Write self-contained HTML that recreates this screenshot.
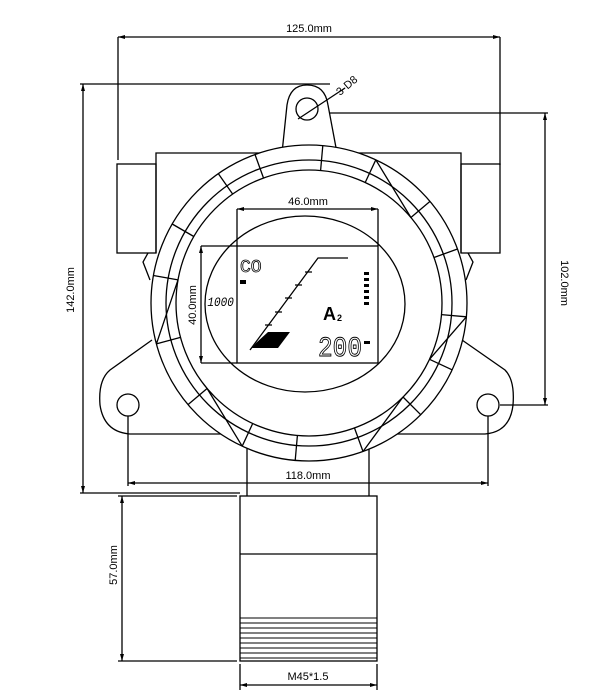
<!DOCTYPE html>
<html><head><meta charset="utf-8"><style>
html,body{margin:0;padding:0;background:#fff;}
svg{display:block;}
text{font-family:"Liberation Sans",sans-serif;fill:#000;}
</style></head><body>
<svg width="610" height="699" viewBox="0 0 610 699" xmlns="http://www.w3.org/2000/svg">
<g fill="none" stroke="#000" stroke-width="1.3">
<line x1="118" y1="37" x2="500" y2="37"/>
<line x1="118" y1="37" x2="118" y2="160"/>
<line x1="500" y1="37" x2="500" y2="165"/>
<line x1="80" y1="84" x2="330" y2="84"/>
<line x1="83" y1="84" x2="83" y2="493"/>
<line x1="80" y1="493" x2="240" y2="493"/>
<line x1="330" y1="113" x2="548" y2="113"/>
<line x1="545" y1="113" x2="545" y2="405"/>
<line x1="500" y1="405" x2="548" y2="405"/>
<line x1="298" y1="119" x2="345" y2="88"/>
<path d="M156 253 V153 H461 V253"/>
<rect x="117" y="164" width="39" height="89"/>
<rect x="461" y="164" width="39" height="89"/>
<path d="M282 153 L287 105 Q290 85 307 85 Q325 85 328 105 L337 153"/>
<circle cx="307" cy="109" r="11"/>
<path d="M152 340 L110 370 Q98 380 100 405 Q104 432 130 434 L245 434"/>
<path d="M462 340 L505 370 Q515 380 513 405 Q510 432 485 434 L370 434"/>
<circle cx="128" cy="405" r="11"/>
<circle cx="488" cy="405" r="11"/>
<path d="M148 253 L143 262 L150 280"/><path d="M468 253 L473 262 L466 280"/>
<line x1="247" y1="440" x2="247" y2="496"/>
<line x1="369" y1="440" x2="369" y2="496"/>
<circle cx="309" cy="303" r="158" fill="#fff"/>
<circle cx="309" cy="303" r="143"/>
<circle cx="309" cy="303" r="133"/>
<ellipse cx="305" cy="304" rx="100" ry="88"/>
<path d="M232.7 194.1 L218.3 173.6 M263.5 178 L255 154.5 M320.6 170.5 L322.8 145.6 M365.2 182.5 L375.8 159.8 M410.9 217.5 L430 201.4 M434 257.5 L457.5 249 M441.5 314.6 L466.4 316.8 M429.5 359.3 L452.1 369.8 M403 397 L420.7 414.7 M354.5 428 L363 451.5 M297.4 435.5 L295.2 460.4 M252.7 423.5 L242.2 446.2 M207.1 388.5 L188 404.6 M180.5 337.4 L156.4 343.9 M178 279.9 L153.4 275.5 M193.8 236.5 L172.2 224"/>
<path d="M375.8 159.8 L410.9 217.5 M466.4 316.8 L429.5 359.3 M363 451.5 L403 397 M156.4 343.9 L178 279.9 M242.2 446.2 L207.1 388.5"/>
<rect x="237" y="246" width="141" height="117" fill="#fff"/>
<line x1="237" y1="209" x2="378" y2="209"/>
<line x1="237" y1="209" x2="237" y2="246"/>
<line x1="378" y1="209" x2="378" y2="246"/>
<line x1="201" y1="246" x2="237" y2="246"/>
<line x1="201" y1="363" x2="237" y2="363"/>
<line x1="201" y1="246" x2="201" y2="363"/>
<path d="M250 350 L318 258 H348"/>
<path d="M305 272 H312 M295 285 H302 M285 298 H292 M275 312 H282 M265 325 H272"/>
<line x1="128" y1="416" x2="128" y2="486"/>
<line x1="488" y1="416" x2="488" y2="486"/>
<line x1="128" y1="483" x2="488" y2="483"/>
<rect x="240" y="496" width="137" height="165"/>
<line x1="240" y1="554" x2="377" y2="554"/>
<line x1="118" y1="496" x2="237" y2="496"/>
<line x1="118" y1="661" x2="237" y2="661"/>
<line x1="122" y1="496" x2="122" y2="661"/>
<line x1="240" y1="664" x2="240" y2="690"/>
<line x1="377" y1="664" x2="377" y2="690"/>
<line x1="240" y1="685" x2="377" y2="685"/>
</g>
<g stroke="#000" stroke-width="1">
<path d="M240 618 H377 M240 623 H377 M240 628 H377 M240 633 H377 M240 638 H377 M240 643 H377 M240 648 H377 M240 653 H377 M240 658 H377"/>
</g>
<g fill="#000">
<path d="M118 37 l7 -2 v4z"/><path d="M500 37 l-7 -2 v4z"/>
<path d="M83 84 l-2 7 h4z"/><path d="M83 493 l-2 -7 h4z"/>
<path d="M545 113 l-2 7 h4z"/><path d="M545 405 l-2 -7 h4z"/>
<path d="M237 209 l7 -2 v4z"/><path d="M378 209 l-7 -2 v4z"/>
<path d="M201 246 l-2 7 h4z"/><path d="M201 363 l-2 -7 h4z"/>
<path d="M128 483 l7 -2 v4z"/><path d="M488 483 l-7 -2 v4z"/>
<path d="M122 496 l-2 7 h4z"/><path d="M122 661 l-2 -7 h4z"/>
<path d="M240 685 l7 -2 v4z"/><path d="M377 685 l-7 -2 v4z"/>
<path d="M256 343 L268 332 H290 L278 348 H252z"/>
<rect x="240" y="280" width="6" height="4"/>
<rect x="364" y="272" width="5" height="3"/><rect x="364" y="278" width="5" height="3"/><rect x="364" y="284" width="5" height="3"/><rect x="364" y="290" width="5" height="3"/><rect x="364" y="296" width="5" height="3"/><rect x="364" y="302" width="5" height="3"/>
<rect x="364" y="341" width="6" height="3"/>
</g>
<g font-size="11">
<text x="309" y="32" text-anchor="middle">125.0mm</text>
<text x="340" y="96" transform="rotate(-40 340 96)">3-D8</text>
<text x="308" y="205" text-anchor="middle">46.0mm</text>
<text x="308" y="479" text-anchor="middle">118.0mm</text>
<text x="308" y="680" text-anchor="middle">M45*1.5</text>
<text transform="translate(74 290) rotate(-90)" text-anchor="middle">142.0mm</text>
<text transform="translate(561 283) rotate(90)" text-anchor="middle">102.0mm</text>
<text transform="translate(196 305) rotate(-90)" text-anchor="middle">40.0mm</text>
<text transform="translate(117 565) rotate(-90)" text-anchor="middle">57.0mm</text>
</g>
<text x="240" y="272" font-size="18" style="font-family:'Liberation Mono',monospace;fill:none;stroke:#000;stroke-width:0.8">CO</text>
<text x="244" y="306" font-size="13" font-style="italic" transform="scale(0.85 1)" style="font-family:'Liberation Mono',monospace">1000</text>
<text x="323" y="320" font-size="18" font-weight="bold">A</text>
<text x="337" y="321" font-size="9" font-weight="bold">2</text>
<text x="318" y="356" font-size="28" style="font-family:'Liberation Mono',monospace;fill:none;stroke:#000;stroke-width:0.9" textLength="44" lengthAdjust="spacingAndGlyphs">200</text>
</svg>
</body></html>
